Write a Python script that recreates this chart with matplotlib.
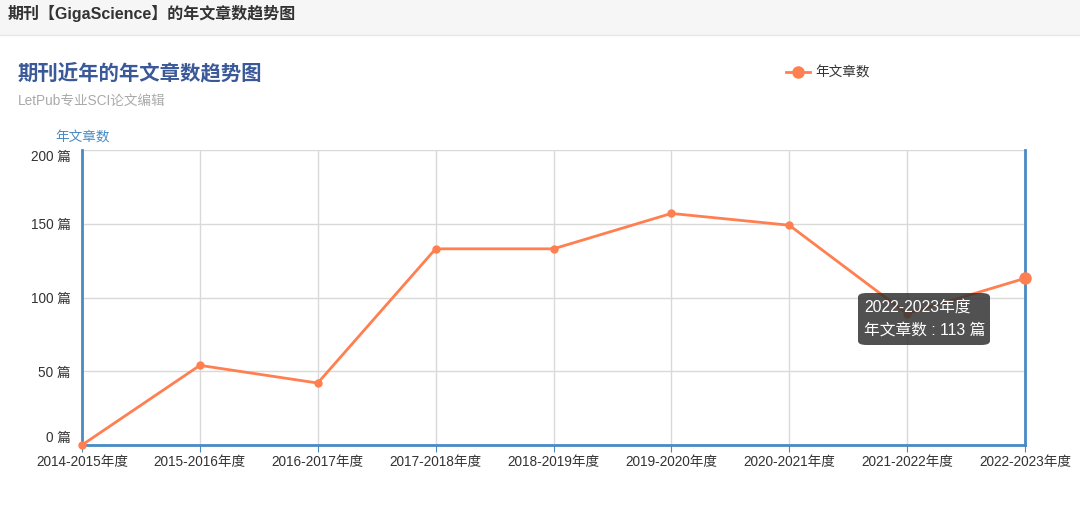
import matplotlib
matplotlib.use('Agg')
import matplotlib.pyplot as plt
from matplotlib.patches import Rectangle, FancyBboxPatch

plt.rcParams['font.family'] = ['Liberation Sans', 'Noto Sans CJK SC', 'DejaVu Sans']

years = ['2014-2015年度', '2015-2016年度', '2016-2017年度', '2017-2018年度',
         '2018-2019年度', '2019-2020年度', '2020-2021年度', '2021-2022年度',
         '2022-2023年度']
counts = [0, 54, 42, 133, 133, 157, 149, 89, 113]
yticks = [0, 50, 100, 150, 200]

W, H = 1080, 508
fig = plt.figure(figsize=(W / 100, H / 100), dpi=100)

# grey header bar
fig.patches.append(Rectangle((0, 1 - 35 / H), 1, 35 / H, transform=fig.transFigure,
                             facecolor='#f6f6f6', edgecolor='none', zorder=0))
fig.lines.append(plt.Line2D([0, 1], [1 - 35 / H, 1 - 35 / H], transform=fig.transFigure,
                            color='#e6e6e6', lw=1))
fig.text(8 / W, 1 - 13 / H, '期刊【GigaScience】的年文章数趋势图', fontsize=11.5,
         fontweight='bold', color='#333333', va='center', ha='left')

fig.text(18 / W, 1 - 73 / H, '期刊近年的年文章数趋势图', fontsize=14.7, fontweight='bold',
         color='#3b5998', va='center', ha='left')
fig.text(18 / W, 1 - 101 / H, 'LetPub专业SCI论文编辑', fontsize=9.8, color='#aaaaaa',
         va='center', ha='left')

axis_blue = '#4a8ac4'
line_c = '#ff7f50'

ax = fig.add_axes([82 / W, (H - 445) / H, (1025 - 82) / W, (445 - 150) / H])
x = list(range(len(years)))
ax.plot(x, counts, color=line_c, lw=2, marker='o', ms=5, zorder=3, clip_on=False)
ax.plot(x[-1], counts[-1], 'o', color=line_c, ms=8, zorder=4, clip_on=False)

ax.set_xlim(0, len(years) - 1)
ax.set_ylim(0, 200)
ax.set_xticks(x)
ax.set_xticklabels(years)
ax.set_yticks(yticks)
ax.set_yticklabels([f'{v} 篇' for v in yticks])
ax.grid(True, color='#d9d9d9', lw=1)
ax.set_axisbelow(True)
for s in ['left', 'bottom', 'right']:
    ax.spines[s].set_color(axis_blue)
    ax.spines[s].set_linewidth(2)
ax.spines['top'].set_visible(False)
ax.tick_params(axis='x', colors=axis_blue, length=5, labelcolor='#333333', labelsize=9.8, pad=2)
ax.tick_params(axis='y', length=0, labelcolor='#333333', labelsize=9.8, pad=8)
labs = ax.get_yticklabels()
labs[0].set_va('bottom')
labs[-1].set_va('top')

fig.text(55 / W, 1 - 137 / H, '年文章数', fontsize=9.8, color=axis_blue, va='center', ha='left')

# legend: -●-
ly = 1 - 72 / H
for x0, x1 in [(786, 791), (805, 810)]:
    fig.lines.append(plt.Line2D([x0 / W, x1 / W], [ly, ly], transform=fig.transFigure,
                                color=line_c, lw=2))
fig.lines.append(plt.Line2D([798 / W], [ly], transform=fig.transFigure,
                            color=line_c, marker='o', ms=8, lw=0))
fig.text(815 / W, ly, '年文章数', fontsize=9.8, color='#333333', va='center', ha='left')

# tooltip
fig.patches.append(FancyBboxPatch((858 / W, 1 - 345 / H), 132 / W, 52 / H,
                                  boxstyle='round,pad=0,rounding_size=0.008',
                                  transform=fig.transFigure, facecolor=(0.2, 0.2, 0.2, 0.85),
                                  edgecolor='none', zorder=10))
fig.text(864 / W, 1 - 308 / H, years[-1], fontsize=11.3, color='white', va='center',
         ha='left', zorder=11)
fig.text(864 / W, 1 - 330 / H, f'年文章数 : {counts[-1]} 篇', fontsize=11.3, color='white',
         va='center', ha='left', zorder=11)

fig.savefig('out.png', dpi=100)
